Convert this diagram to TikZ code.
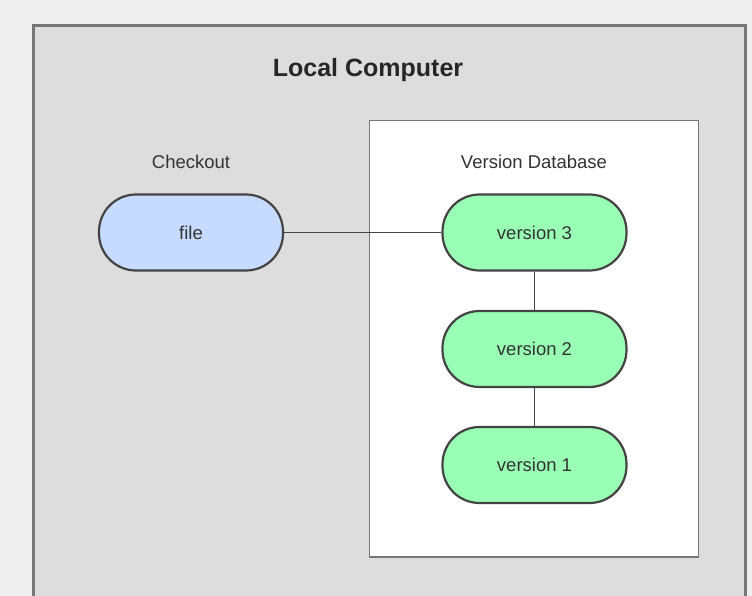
\documentclass[tikz,border=0pt]{standalone}
\usepackage{fontspec}
\setmainfont{Liberation Sans}
\definecolor{bgc}{HTML}{EEEEEE}
\definecolor{outerc}{HTML}{DDDDDD}
\definecolor{framec}{HTML}{777777}
\definecolor{edgec}{HTML}{444444}
\definecolor{txtc}{HTML}{333333}
\definecolor{bluec}{HTML}{C6DBFF}
\definecolor{greenc}{HTML}{99FFB4}
\tikzset{
  pill/.style={draw=edgec, line width=2.2pt, rounded corners=37pt, minimum width=184pt, minimum height=76pt, inner sep=0pt, text=txtc, font=\fontsize{18.5}{20}\selectfont},
  filebox/.style={pill, fill=bluec},
  verbox/.style={pill, fill=greenc},
  lbl/.style={text=txtc, font=\fontsize{18.5}{20}\selectfont, inner sep=0pt},
  conn/.style={draw=edgec, line width=1pt}
}
\begin{document}
\begin{tikzpicture}[x=1pt,y=-1pt]
\clip (0,0) rectangle (752,596);
\fill[bgc] (0,0) rectangle (752,596);
\draw[fill=outerc, draw=framec, line width=2.2pt] (33.5,25.5) rectangle (745.5,640);
\draw[fill=white, draw=framec, line width=1.8pt] (369.5,120.5) rectangle (698.5,557);
\node[lbl, font=\fontsize{25}{28}\bfseries\selectfont, text=black!85] (title) at (368,70) {Local Computer};
\node[lbl] (checkout) at (191,162) {Checkout};
\node[lbl] (vdb) at (534,162) {Version Database};
\node[filebox] (file) at (191,232.5) {file};
\node[verbox] (v3) at (534.5,232.5) {version 3};
\node[verbox] (v2) at (534.5,349) {version 2};
\node[verbox] (v1) at (534.5,465) {version 1};
\draw[conn] (file.east) -- (v3.west);
\draw[conn] (v3.south) -- (v2.north);
\draw[conn] (v2.south) -- (v1.north);
\end{tikzpicture}
\end{document}
